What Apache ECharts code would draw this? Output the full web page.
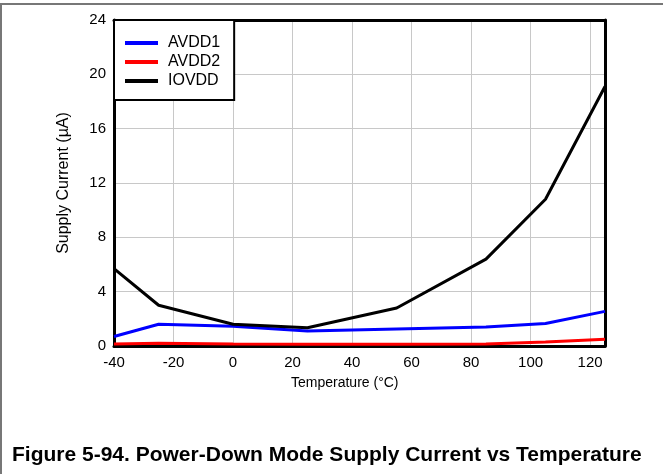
<!DOCTYPE html>
<html>
<head>
<meta charset="utf-8">
<script src="https://cdn.jsdelivr.net/npm/echarts@6/dist/echarts.min.js"></script>
<style>
  html, body { margin: 0; padding: 0; background: #fff; }
  #chart { width: 663px; height: 474px; }
</style>
</head>
<body>
<div id="chart"></div>
<script>
// Temperature sweep points (°C)
const temps = [-40, -25, 0, 25, 55, 85, 105, 125];
// Supply currents (µA) per rail
const avdd1 = [0.7, 1.6, 1.45, 1.1, 1.25, 1.4, 1.65, 2.55];
const avdd2 = [0.15, 0.2, 0.15, 0.12, 0.12, 0.15, 0.3, 0.5];
const iovdd = [5.7, 3.0, 1.6, 1.35, 2.8, 6.4, 10.8, 19.1];
const seriesNames = ['AVDD1', 'AVDD2', 'IOVDD'];
const seriesColors = ['#0000ff', '#ff0000', '#000000'];

const font = 'Liberation Sans, Arial, sans-serif';
const pair = (vals) => temps.map((t, i) => [t, vals[i]]);

const frameLine = { show: true, onZero: false, lineStyle: { color: '#000', width: 3 } };
const gridLine = { show: true, lineStyle: { color: '#c8c8c8', width: 1 } };
const tickText = { color: '#000', fontSize: 15, fontFamily: font };

const chart = echarts.init(document.getElementById('chart'));
chart.setOption({
  animation: false,
  backgroundColor: '#fff',
  grid: { left: 114, right: 58, top: 20, bottom: 128 },
  xAxis: [
    {
      type: 'value', min: -40, max: 125, interval: 20, position: 'bottom',
      axisLine: frameLine, axisTick: { show: false }, splitLine: gridLine,
      axisLabel: Object.assign({ margin: 9, showMaxLabel: false }, tickText)
    },
    {
      type: 'value', min: -40, max: 125, interval: 20, position: 'top',
      axisLine: frameLine, axisTick: { show: false }, splitLine: { show: false },
      axisLabel: { show: false }
    }
  ],
  yAxis: [
    {
      type: 'value', min: 0, max: 24, interval: 4, position: 'left',
      axisLine: frameLine, axisTick: { show: false }, splitLine: gridLine,
      axisLabel: Object.assign({ margin: 8 }, tickText),
      name: 'Supply Current (µA)', nameLocation: 'middle', nameGap: 42,
      nameTextStyle: { color: '#000', fontSize: 16, fontFamily: font }
    },
    {
      type: 'value', min: 0, max: 24, interval: 4, position: 'right',
      axisLine: frameLine, axisTick: { show: false }, splitLine: { show: false },
      axisLabel: { show: false }
    }
  ],
  legend: {
    left: 114, top: 20, orient: 'vertical',
    data: seriesNames,
    icon: 'rect', itemWidth: 33, itemHeight: 4, itemGap: 3,
    padding: [15, 14, 11, 11],
    backgroundColor: '#fff', borderColor: '#000', borderWidth: 2,
    textStyle: { color: '#000', fontSize: 16, fontFamily: font, padding: [0, 0, 0, 5] }
  },
  graphic: [
    { type: 'line', shape: { x1: 0, y1: 4, x2: 663, y2: 4 }, style: { stroke: '#777', lineWidth: 2 } },
    { type: 'line', shape: { x1: 1, y1: 4, x2: 1, y2: 474 }, style: { stroke: '#777', lineWidth: 2 } },
    { type: 'text', left: 291, top: 376, style: { text: 'Temperature (°C)', fill: '#000', font: '14px ' + font } },
    { type: 'text', left: 12, top: 445, style: { text: 'Figure 5-94. Power-Down Mode Supply Current vs Temperature', fill: '#000', font: 'bold 21px ' + font } }
  ],
  series: [avdd1, avdd2, iovdd].map((vals, i) => ({
    name: seriesNames[i], type: 'line', data: pair(vals),
    showSymbol: false, symbol: 'none',
    lineStyle: { color: seriesColors[i], width: 3 },
    itemStyle: { color: seriesColors[i] },
    z: 3 + (i === 2 ? 1 : 0)
  }))
});
</script>
</body>
</html>
